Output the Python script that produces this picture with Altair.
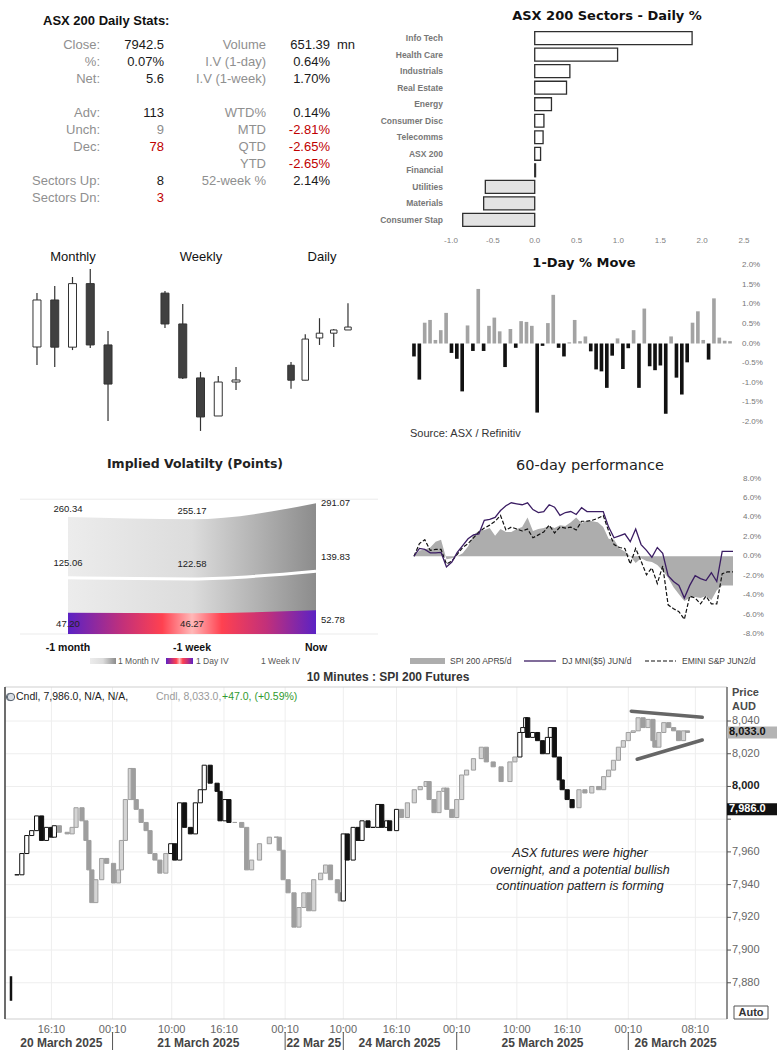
import altair as alt
import pandas as pd

FONT = "Liberation Sans"
NARROW = "Liberation Sans Narrow, Liberation Sans"
WIDE = "DejaVu Sans"

# ------------------------------------------------------------------ data
# Stats table
stat_rows_l = [0, 1, 2, 4, 5, 6, 8, 9]
stat_labels_l = ["Close:", "%:", "Net:", "Adv:", "Unch:", "Dec:", "Sectors Up:", "Sectors Dn:"]
stat_values_l = ["7942.5", "0.07%", "5.6", "113", "9", "78", "8", "3"]
stat_tone_l = ["up", "up", "up", "up", "flat", "down", "up", "down"]
stat_rows_r = [0, 1, 2, 4, 5, 6, 7, 8]
stat_labels_r = ["Volume", "I.V (1-day)", "I.V (1-week)", "WTD%", "MTD", "QTD", "YTD", "52-week %"]
stat_values_r = ["651.39", "0.64%", "1.70%", "0.14%", "-2.81%", "-2.65%", "-2.65%", "2.14%"]
stat_tone_r = ["up", "up", "up", "up", "down", "down", "down", "up"]

# Sectors
sectors = ["Info Tech", "Health Care", "Industrials", "Real Estate", "Energy", "Consumer Disc",
           "Telecomms", "ASX 200", "Financial", "Utilities", "Materials", "Consumer Stap"]
sector_pct = [1.88, 0.99, 0.42, 0.38, 0.20, 0.11, 0.10, 0.07, 0.01, -0.59, -0.61, -0.86]
sector_ticks = [-1.0, -0.5, 0.0, 0.5, 1.0, 1.5, 2.0, 2.5]

# Candles
monthly_open = [8160, 8436, 8159, 8532, 8172]
monthly_high = [8477, 8518, 8571, 8618, 8254]
monthly_low = [8054, 8043, 8142, 8154, 7726]
monthly_close = [8436, 8159, 8532, 8172, 7942.5]
weekly_open = [8303, 8175, 7951, 7793, 7934]
weekly_high = [8312, 8258, 7976, 7959, 7996]
weekly_low = [8158, 7947, 7731, 7793, 7901]
weekly_close = [8175, 7951, 7789, 7934, 7942.5]
daily_open = [7871, 7843, 7922, 7931, 7937]
daily_high = [7877, 7929, 7959, 7939, 7987]
daily_low = [7827, 7843, 7909, 7905, 7937]
daily_close = [7843, 7920, 7931, 7937, 7942.5]

# 1-day % move (60 sessions)
day_move = [-0.33, -0.92, 0.53, 0.60, 0.09, 0.34, 0.78, -0.24, -0.39, -1.22,
            0.46, -0.19, 1.39, -0.19, 0.45, 0.66, 0.31, -0.60, 0.37, -0.11,
            0.57, 0.55, 0.45, -1.76, -0.06, 0.52, 1.24, -0.11, -0.33, 0.03,
            0.60, 0.06, 0.18, -0.20, -0.66, -0.71, -1.13, -0.31, 0.13, -0.65,
            -0.12, 0.34, -1.13, 0.89, -0.58, -0.68, -0.56, -1.79, 0.18, -0.87,
            -1.30, -0.48, 0.53, 0.82, 0.09, -0.41, 1.15, 0.15, 0.07, 0.06]
move_ticks = [2.0, 1.5, 1.0, 0.5, 0.0, -0.5, -1.0, -1.5, -2.0]

# Implied volatility
iv_periods = ["-1 month", "-1 week", "Now"]
iv_month = [260.34, 255.17, 291.07]
iv_week = [125.06, 122.58, 139.83]
iv_day = [47.20, 46.27, 52.78]

# 60-day performance
perf_spi = [0.0, 0.6, 0.7, 0.9, 1.5, 1.7, -0.3, -0.2, 0.0, 0.3, 1.0, 2.2, 2.6, 2.7, 2.9,
            2.1, 2.8, 2.5, 2.5, 2.8, 3.0, 4.0, 2.6, 2.8, 2.9, 3.1, 2.9, 3.2, 3.1, 3.5,
            4.0, 3.4, 3.7, 3.6, 3.5, 3.0, 1.8, 1.7, 0.8, 0.5, 0.0, -0.7, -0.2, -0.5, -0.6,
            -0.9, -1.5, -2.2, -3.2, -3.9, -4.6, -4.3, -4.2, -4.3, -4.1, -4.5, -3.5, -3.0, -3.0, -3.0]
perf_dj = [0.0, 0.8, 0.7, 0.35, 0.35, 0.4, -1.1, -0.6, 0.4, 1.1, 1.8, 2.2, 2.3, 3.7, 3.8,
           4.0, 4.7, 5.2, 5.5, 5.4, 5.3, 5.5, 4.8, 4.5, 4.6, 5.3, 5.05, 4.2, 4.5, 4.6,
           4.3, 5.0, 4.6, 4.6, 4.6, 4.6, 3.0, 1.9, 2.1, 2.3, 1.5, 2.8, 1.2, 0.6, -0.1,
           0.9, 0.3, -2.0, -2.6, -3.0, -4.3, -3.0, -2.0, -2.3, -2.5, -1.7, -2.6, 0.5, 0.5, 0.5]
perf_emini = [0.0, 1.3, 1.7, 0.6, 0.7, 0.7, -0.8, -0.5, 0.2, 0.9, 1.3, 1.9, 2.5, 2.9, 3.2,
              3.6, 4.2, 2.7, 3.0, 2.8, 2.6, 2.8, 1.9, 2.2, 2.5, 3.2, 2.4, 3.0, 2.9, 3.0,
              2.7, 3.6, 3.6, 3.7, 3.9, 4.2, 2.6, 1.2, 0.9, 0.8, -0.8, 0.8, -0.5, -1.9, -1.2,
              -2.8, -1.0, -5.0, -5.4, -5.7, -6.5, -4.1, -4.3, -4.9, -4.1, -4.9, -4.9, -1.8, -1.6, -1.6]
perf_ticks = [8, 6, 4, 2, 0, -2, -4, -6, -8]

# SPI 200 futures, 10-minute bars (bar position, close)
spi_t = [7, 12, 17, 22, 27, 32, 37, 42, 45, 50, 58, 63, 67, 73, 77, 80, 83, 87, 93, 98,
         105, 110, 113, 117, 122, 125, 128, 133, 138, 142, 147, 152, 158, 163, 167, 172, 177, 183, 188, 193,
         197, 203, 210, 213, 218, 222, 228, 235, 240, 245, 253, 263, 270, 273, 277, 282, 288, 293, 298, 303,
         308, 315, 320, 325, 332, 335, 338, 342, 348, 353, 357, 363, 368, 373, 377, 382, 385, 392, 397, 403,
         410, 416, 422, 425, 430, 435, 440, 443, 448, 453, 458, 463, 470, 478, 483, 490, 498, 507, 512, 517,
         520, 523, 525, 530, 535, 540, 545, 548, 552, 557, 560, 565, 570, 577, 583, 590, 597, 602, 607, 612,
         617, 622, 627, 632, 637, 642, 647, 652, 654, 658, 663, 668, 673, 678, 683, 687]
spi_close = [7946, 7959, 7970, 7973, 7982, 7967, 7975, 7969, 7976, 7972, 7971, 7975, 7987, 7979, 7967, 7949, 7929, 7943, 7956, 7953,
             7941, 7949, 7967, 7992, 8011, 7992, 7986, 7978, 7973, 7959, 7955, 7947, 7959, 7965, 7955, 7990, 7975, 7971, 7990, 7998,
             8013, 8002, 7997, 7979, 7992, 7978, 7978, 7975, 7949, 7955, 7965, 7969, 7969, 7961, 7943, 7935, 7914, 7926, 7935, 7924,
             7943, 7947, 7952, 7943, 7935, 7930, 7971, 7955, 7975, 7967, 7979, 7975, 7975, 7989, 7975, 7979, 7973, 7986, 7981, 7990,
             7998, 8000, 8003, 7992, 7984, 7997, 7999, 7986, 7981, 7992, 8007, 8010, 8017, 8024, 8015, 8012, 8003, 8015, 8018, 8033,
             8036, 8042, 8030, 8033, 8028, 8020, 8030, 8036, 8018, 8004, 7998, 7992, 7987, 7998, 7996, 8000, 7998, 8006, 8010, 8016,
             8024, 8028, 8033, 8034, 8042, 8036, 8041, 8028, 8024, 8033, 8039, 8036, 8034, 8028, 8034, 8033]
day_start_t = [7, 163, 338, 513]
day_end_t = [45, 223, 393, 570]
stray_t = [1]
stray_high = [7884]
stray_low = [7869]
trend_t1 = [630, 636]
trend_p1 = [8046.0, 8016.6]
trend_t2 = [702, 702]
trend_p2 = [8042.3, 8028.4]
price_ticks = [8040, 8020, 8000, 7980, 7960, 7940, 7920, 7900, 7880]
hidden_tick = 7980  # covered by the previous-close marker in the reference
time_tick_t = [42, 104, 164, 217, 279, 338, 392, 453, 514, 565, 627, 695]
time_tick_lab = ["16:10", "00:10", "10:00", "16:10", "00:10", "10:00", "16:10", "00:10", "10:00", "16:10", "00:10", "08:10"]
date_sep_t = [104, 279, 338, 453, 627]
date_lab_t = [52, 191, 308, 395, 540, 675]
date_lab = ["20 March 2025", "21 March 2025", "22 Mar 25", "24 March 2025", "25 March 2025", "26 March 2025"]
last_price = 8033.0
prev_close = 7986.0


# ------------------------------------------------------------------ helpers
def lin(domain, rng):
    return alt.Scale(domain=domain, range=rng, nice=False, zero=False)


def lab(text, x, y, size=11, color="#222222", align="center", weight="normal",
        font=FONT, style="normal", baseline="middle"):
    return alt.Chart(pd.DataFrame({"s": [text]})).mark_text(
        align=align, baseline=baseline, fontSize=size, color=color,
        fontWeight=weight, font=font, fontStyle=style
    ).encode(x=alt.value(x), y=alt.value(y), text="s:N")


def box(x, x2, y, y2, fill="none", stroke="#cccccc", sw=1):
    return alt.Chart(pd.DataFrame({"a": [0]})).mark_rect(
        fill=fill, stroke=stroke, strokeWidth=sw
    ).encode(x=alt.value(x), x2=alt.value(x2), y=alt.value(y), y2=alt.value(y2))


def hline(x, x2, y, color, sw=1, dash=None):
    kw = dict(color=color, strokeWidth=sw)
    if dash:
        kw["strokeDash"] = dash
    return alt.Chart(pd.DataFrame({"a": [0]})).mark_rule(**kw).encode(
        x=alt.value(x), x2=alt.value(x2), y=alt.value(y))


tone_color = {"up": "#1a1a1a", "flat": "#8c8c8c", "down": "#c00000"}
panels = []

# ------------------------------------------------------------------ stats panel
dfl = pd.DataFrame({"row": stat_rows_l, "lab": stat_labels_l, "val": stat_values_l,
                    "col": [tone_color[t] for t in stat_tone_l]})
dfr = pd.DataFrame({"row": stat_rows_r, "lab": stat_labels_r, "val": stat_values_r,
                    "col": [tone_color[t] for t in stat_tone_r]})
yS = alt.Y("row:Q", scale=lin([0, 9], [45, 198]), axis=None)


def stat_col(df, field, x, colored):
    enc = dict(x=alt.value(x), y=yS, text=f"{field}:N")
    if colored:
        enc["color"] = alt.Color("col:N", scale=None)
        return alt.Chart(df).mark_text(align="right", fontSize=13, font=FONT).encode(**enc)
    return alt.Chart(df).mark_text(align="right", fontSize=13, font=FONT, color="#8f8f8f").encode(**enc)


mn = alt.Chart(dfr[dfr["lab"] == "Volume"]).mark_text(
    align="left", fontSize=13, font=FONT, color="#1a1a1a").encode(
    x=alt.value(337), y=yS, text=alt.value("mn"))
panels.append(alt.layer(
    stat_col(dfl, "lab", 100, False), stat_col(dfl, "val", 164, True),
    stat_col(dfr, "lab", 266, False), stat_col(dfr, "val", 330, True), mn,
    lab("ASX 200 Daily Stats:", 43, 21, size=13, weight="bold", align="left", color="#111111"),
))

# ------------------------------------------------------------------ sectors panel
sec_df = pd.DataFrame({"sector": sectors, "pct": sector_pct})
sec_df["fill"] = ["#ffffff" if v >= 0 else "#e3e3e3" for v in sector_pct]
xSec = lin([-1, 2.5], [451, 744])
ySec = alt.Y("sector:N", sort=None,
             scale=alt.Scale(domain=sectors, range=[30, 228], paddingInner=0.22, paddingOuter=0.1),
             axis=None)
sec_bars = alt.Chart(sec_df).mark_bar(stroke="#2e2e2e", strokeWidth=1.3).encode(
    x=alt.X("pct:Q", scale=xSec, axis=None), x2=alt.datum(0), y=ySec,
    fill=alt.Fill("fill:N", scale=None))
sec_names = alt.Chart(sec_df).mark_text(align="right", fontSize=8.5, fontWeight="bold",
                                        font=FONT, color="#777777").encode(
    x=alt.value(443), y=ySec, text="sector:N")
sec_tick_df = pd.DataFrame({"v": sector_ticks, "s": [f"{v:.1f}" for v in sector_ticks]})
sec_ticks = alt.Chart(sec_tick_df).mark_text(fontSize=8, font=FONT, color="#808080").encode(
    x=alt.X("v:Q", scale=xSec, axis=None), y=alt.value(241), text="s:N")
panels.append(alt.layer(
    sec_bars, sec_names, sec_ticks,
    lab("ASX 200 Sectors - Daily %", 607, 16, size=13, weight="bold", font=WIDE, color="#111111"),
))


# ------------------------------------------------------------------ candles panel
def candle_group(o, h, l, c, dom, yr, xr, width, title, tx):
    df = pd.DataFrame({"i": list(range(len(o))), "o": o, "h": h, "l": l, "c": c})
    df["fill"] = ["#ffffff" if cc >= oo else "#404040" for oo, cc in zip(o, c)]
    xs = alt.X("i:Q", scale=lin([-0.5, 4.5], xr), axis=None)
    ysc = lin(dom, yr)
    wick = alt.Chart(df).mark_rule(color="#333333", strokeWidth=1.2).encode(
        x=xs, y=alt.Y("l:Q", scale=ysc, axis=None), y2="h:Q")
    body = alt.Chart(df).mark_bar(size=width, stroke="#333333", strokeWidth=1).encode(
        x=xs, y=alt.Y("o:Q", scale=ysc, axis=None), y2="c:Q",
        fill=alt.Fill("fill:N", scale=None))
    return alt.layer(wick, body, lab(title, tx, 257, size=13, color="#111111"))


panels.append(candle_group(monthly_open, monthly_high, monthly_low, monthly_close,
                           [7600, 8700], [442.4, 255.0], [23.1, 121.9], 8, "Monthly", 73))
panels.append(candle_group(weekly_open, weekly_high, weekly_low, weekly_close,
                           [7700, 8350], [438.4, 281.8], [151.1, 249.9], 8, "Weekly", 201))
panels.append(candle_group(daily_open, daily_high, daily_low, daily_close,
                           [7800, 8000], [403.2, 296.3], [278.9, 360.1], 6.5, "Daily", 322))

# ------------------------------------------------------------------ 1-day move panel
mv_df = pd.DataFrame({"day": list(range(len(day_move))), "v": day_move})
mv_df["col"] = ["#a3a3a3" if v > 0 else "#111111" for v in day_move]
yMv = lin([-2, 2], [422, 265])
mv_bars = alt.Chart(mv_df).mark_bar().encode(
    x=alt.X("day:O", scale=alt.Scale(domain=list(range(60)), range=[411.3, 732.7],
                                     paddingInner=0.32, paddingOuter=0.16), axis=None),
    y=alt.Y("v:Q", scale=yMv, axis=None), y2=alt.datum(0),
    color=alt.Color("col:N", scale=None))
mv_tick_df = pd.DataFrame({"v": move_ticks, "s": [f"{v:.1f}%" for v in move_ticks]})
mv_ticks = alt.Chart(mv_tick_df).mark_text(align="left", fontSize=8, font=FONT, color="#777777").encode(
    x=alt.value(742), y=alt.Y("v:Q", scale=yMv, axis=None), text="s:N")
panels.append(alt.layer(
    mv_bars, mv_ticks,
    lab("1-Day % Move", 584, 263, size=13, weight="bold", font=WIDE, color="#111111"),
    lab("Source: ASX / Refinitiv", 410, 434, size=11, align="left", color="#333333"),
))

# ------------------------------------------------------------------ implied volatility panel
iv_df = pd.DataFrame({"p": iv_periods, "m": iv_month, "w": iv_week, "d": iv_day})
xIV = alt.X("p:N", scale=alt.Scale(domain=iv_periods, range=[68, 316], padding=0), axis=None)
yIVs = lin([0, 300], [634, 499.2])
grad_month = alt.Gradient(gradient="linear", x1=0, x2=1, y1=0, y2=0, stops=[
    alt.GradientStop(color="#ececec", offset=0), alt.GradientStop(color="#dcdcdc", offset=0.5),
    alt.GradientStop(color="#8c8c8c", offset=1)])
grad_day = alt.Gradient(gradient="linear", x1=0, x2=1, y1=0, y2=0, stops=[
    alt.GradientStop(color="#5b22c4", offset=0), alt.GradientStop(color="#c2307a", offset=0.22),
    alt.GradientStop(color="#ff4150", offset=0.38), alt.GradientStop(color="#ffb8b8", offset=0.5),
    alt.GradientStop(color="#ff4150", offset=0.62), alt.GradientStop(color="#c2307a", offset=0.8),
    alt.GradientStop(color="#5b22c4", offset=1)])
iv_grid = alt.Chart(pd.DataFrame({"g": [0, 300]})).mark_rule(color="#ebebeb").encode(
    y=alt.Y("g:Q", scale=yIVs, axis=None), x=alt.value(20), x2=alt.value(378))
iv_m = alt.Chart(iv_df).mark_area(color=grad_month, interpolate="monotone").encode(
    x=xIV, y=alt.Y("m:Q", scale=yIVs, axis=None), y2=alt.datum(0))
iv_w = alt.Chart(iv_df).mark_line(color="#ffffff", strokeWidth=3, interpolate="monotone").encode(
    x=xIV, y=alt.Y("w:Q", scale=yIVs, axis=None))
iv_d = alt.Chart(iv_df).mark_area(color=grad_day, interpolate="monotone").encode(
    x=xIV, y=alt.Y("d:Q", scale=yIVs, axis=None), y2=alt.datum(0))


def iv_labels(f, dy_mid, dy_now):
    base = alt.Chart(iv_df).encode(x=xIV, y=alt.Y(f"{f}:Q", scale=yIVs, axis=None),
                                   text=alt.Text(f"{f}:Q", format=".2f"))
    a = base.transform_filter("datum.p != 'Now'").mark_text(dy=dy_mid, fontSize=9.5, font=FONT,
                                                           color="#222222")
    b = base.transform_filter("datum.p == 'Now'").mark_text(dy=dy_now, dx=5, align="left",
                                                           fontSize=9.5, font=FONT, color="#222222")
    return alt.layer(a, b)


iv_x = alt.Chart(iv_df).mark_text(fontSize=10.5, fontWeight="bold", font=FONT, color="#111111").encode(
    x=xIV, y=alt.value(648), text="p:N")
iv_leg_m = box(90, 116, 658, 664, fill=grad_month, stroke="none", sw=0)
iv_leg_d = box(166, 193, 658, 664, fill=grad_day, stroke="none", sw=0)
panels.append(alt.layer(
    iv_grid, iv_m, iv_w, iv_d, iv_labels("m", -8, 0), iv_labels("w", -15, -14),
    iv_labels("d", 11, 10), iv_x, iv_leg_m, iv_leg_d,
    lab("1 Month IV", 118, 661, size=8.5, align="left", color="#555555"),
    lab("1 Day IV", 196, 661, size=8.5, align="left", color="#555555"),
    lab("1 Week IV", 261, 661, size=8.5, align="left", color="#555555"),
    lab("Implied Volatilty (Points)", 195, 464, size=12.5, weight="bold", font=WIDE, color="#222222"),
))

# ------------------------------------------------------------------ 60-day performance panel
pf = pd.DataFrame({"i": list(range(60)), "spi": perf_spi, "dj": perf_dj, "em": perf_emini})
xP = alt.X("i:Q", scale=lin([0, 59], [414, 733]), axis=None)
yPs = lin([-8, 8], [634, 478.5])
pf_area = alt.Chart(pf).mark_area(color="#adadad").encode(
    x=xP, y=alt.Y("spi:Q", scale=yPs, axis=None), y2=alt.datum(0))
pf_em = alt.Chart(pf).mark_line(color="#111111", strokeWidth=1.2, strokeDash=[4, 2]).encode(
    x=xP, y=alt.Y("em:Q", scale=yPs, axis=None))
pf_dj = alt.Chart(pf).mark_line(color="#3b1d63", strokeWidth=1.3).encode(
    x=xP, y=alt.Y("dj:Q", scale=yPs, axis=None))
pf_tick_df = pd.DataFrame({"v": perf_ticks, "s": [f"{v:.1f}%" for v in perf_ticks]})
pf_ticks = alt.Chart(pf_tick_df).mark_text(align="left", fontSize=8, font=FONT, color="#777777").encode(
    x=alt.value(743), y=alt.Y("v:Q", scale=yPs, axis=None), text="s:N")
panels.append(alt.layer(
    pf_area, pf_em, pf_dj, pf_ticks,
    lab("60-day performance", 590, 466, size=14.5, font=WIDE, color="#222222"),
    box(410, 445, 658, 664, fill="#adadad", stroke="none", sw=0),
    lab("SPI 200 APR5/d", 450, 661, size=8.5, align="left", color="#444444"),
    hline(524, 556, 661, "#3b1d63", 1.3),
    lab("DJ MNI($5) JUN/d", 562, 661, size=8.5, align="left", color="#444444"),
    hline(645, 676, 661, "#111111", 1.2, [4, 2]),
    lab("EMINI S&P JUN2/d", 682, 661, size=8.5, align="left", color="#444444"),
))

# ------------------------------------------------------------------ SPI 10-minute chart
def in_day(t):
    return any(s <= t <= e for s, e in zip(day_start_t, day_end_t))


bt = pd.DataFrame({"t": spi_t, "c": spi_close})
bt["o"] = [spi_close[0]] + spi_close[:-1]
bt["stroke"] = ["#111111" if in_day(t) else "#9e9e9e" for t in spi_t]
bt["fill"] = [
    ("#ffffff" if c >= o else "#111111") if in_day(t) else ("#d4d4d4" if c >= o else "#9e9e9e")
    for t, c, o in zip(bt["t"], bt["c"], bt["o"])
]

xBs = lin([0, 720], [5, 725])
yBs = lin([7860, 8060], [1015.5, 688.3])
xB = lambda f: alt.X(f"{f}:Q", scale=xBs, axis=None)
yB = lambda f: alt.Y(f"{f}:Q", scale=yBs, axis=None)

tick_df = pd.DataFrame({"p": price_ticks, "s": [f"{p:,}" for p in price_ticks]})
time_df = pd.DataFrame({"t": time_tick_t, "s": time_tick_lab})
date_df = pd.DataFrame({"t": date_lab_t, "s": date_lab})
sep_df = pd.DataFrame({"t": date_sep_t})

grid_h = alt.Chart(tick_df).mark_rule(color="#eeeeee").encode(
    y=yB("p"), x=alt.value(5), x2=alt.value(727))
grid_v = alt.Chart(time_df).mark_rule(color="#eeeeee").encode(
    x=xB("t"), y=alt.value(687), y2=alt.value(1019))
frame = box(5, 727, 687, 1019, stroke="#cfcfcf")
left_edge = alt.Chart(pd.DataFrame({"a": [0]})).mark_rule(color="#444444", strokeWidth=1.5).encode(
    x=alt.value(5), y=alt.value(687), y2=alt.value(1019))
right_edge = alt.Chart(pd.DataFrame({"a": [0]})).mark_rule(color="#555555", strokeWidth=1.2).encode(
    x=alt.value(727), y=alt.value(687), y2=alt.value(1019))

stray = alt.Chart(pd.DataFrame({"t": stray_t, "h": stray_high, "l": stray_low})).mark_bar(
    size=2.5, color="#111111").encode(x=xB("t"), y=yB("l"), y2="h:Q")
candles = alt.Chart(bt).mark_bar(size=4.2, strokeWidth=1).encode(
    x=xB("t"), y=yB("o"), y2="c:Q",
    fill=alt.Fill("fill:N", scale=None), stroke=alt.Stroke("stroke:N", scale=None))
trend = alt.Chart(pd.DataFrame({"t1": trend_t1, "p1": trend_p1, "t2": trend_t2, "p2": trend_p2})).mark_rule(
    color="#666666", strokeWidth=3.5, strokeCap="round").encode(
    x=xB("t1"), x2="t2:Q", y=yB("p1"), y2="p2:Q")

axis_ticks = alt.Chart(tick_df).mark_rule(color="#555555").encode(
    y=yB("p"), x=alt.value(727), x2=alt.value(731))
axis_lab = alt.Chart(tick_df).transform_filter(
    f"datum.p != 8000 && datum.p != {hidden_tick}").mark_text(
    align="left", fontSize=11, font=FONT, color="#666666").encode(
    y=yB("p"), x=alt.value(732), text="s:N")
axis_lab_b = alt.Chart(tick_df).transform_filter("datum.p == 8000").mark_text(
    align="left", fontSize=11, font=FONT, fontWeight="bold", color="#222222").encode(
    y=yB("p"), x=alt.value(732), text="s:N")

mark_df = pd.DataFrame({"p": [last_price, prev_close], "s": [f"{last_price:,.1f}", f"{prev_close:,.1f}"],
                        "bg": ["#b4b4b4", "#111111"], "fg": ["#111111", "#ffffff"]})
mark_bg = alt.Chart(mark_df).mark_rule(strokeWidth=12).encode(
    y=yB("p"), x=alt.value(727), x2=alt.value(777), color=alt.Color("bg:N", scale=None))
mark_tx = alt.Chart(mark_df).mark_text(align="left", fontSize=11, font=FONT, fontWeight="bold").encode(
    y=yB("p"), x=alt.value(729), text="s:N", color=alt.Color("fg:N", scale=None))

time_lab = alt.Chart(time_df).mark_text(fontSize=11, font=FONT, color="#666666").encode(
    x=xB("t"), y=alt.value(1030), text="s:N")
date_text = alt.Chart(date_df).mark_text(fontSize=12, font=FONT, fontWeight="bold", color="#444444").encode(
    x=xB("t"), y=alt.value(1043), text="s:N")
seps = alt.Chart(sep_df).mark_rule(color="#555555").encode(
    x=xB("t"), y=alt.value(1032), y2=alt.value(1050))

icons = alt.Chart(pd.DataFrame({"a": [0, 1]})).mark_point(
    shape="circle", filled=True, fill="#d9dee4", stroke="#5a6470", strokeWidth=1, size=55, opacity=1).encode(
    x=alt.X("a:Q", scale=lin([0, 1], [10, 150]), axis=None), y=alt.value(697))

panels.append(alt.layer(
    grid_h, grid_v, frame, left_edge, right_edge, stray, candles, trend,
    axis_ticks, axis_lab, axis_lab_b, mark_bg, mark_tx, time_lab, date_text, seps, icons,
    lab("10 Minutes : SPI 200 Futures", 388, 677, size=12, weight="bold", font=NARROW, color="#333333"),
    lab("Cndl, 7,986.0, N/A, N/A,", 16, 697, size=10.5, align="left", color="#222222"),
    lab("Cndl, 8,033.0,", 156, 697, size=10.5, align="left", color="#9a9a9a"),
    lab("+47.0, (+0.59%)", 222, 697, size=10.5, align="left", color="#2f9a2f"),
    lab("Price", 732, 693, size=11, weight="bold", align="left", color="#4a4a4a"),
    lab("AUD", 732, 707, size=11, weight="bold", align="left", color="#4a4a4a"),
    box(734, 768, 1006, 1019, fill="#ffffff", stroke="#555555"),
    lab("Auto", 751, 1013, size=11, weight="bold", color="#333333"),
    lab("ASX futures were higher", 580, 853, size=12.5, style="italic", color="#222222"),
    lab("overnight, and a potential bullish", 580, 870, size=12.5, style="italic", color="#222222"),
    lab("continuation pattern is forming", 580, 886, size=12.5, style="italic", color="#222222"),
))

chart = alt.layer(*panels).resolve_scale(x="independent", y="independent").properties(
    width=777, height=1050, padding=0,
    autosize=alt.AutoSizeParams(type="fit", contains="padding"),
).configure_view(stroke=None)

chart.save("out.html", embed_options={"renderer": "svg", "actions": False})
